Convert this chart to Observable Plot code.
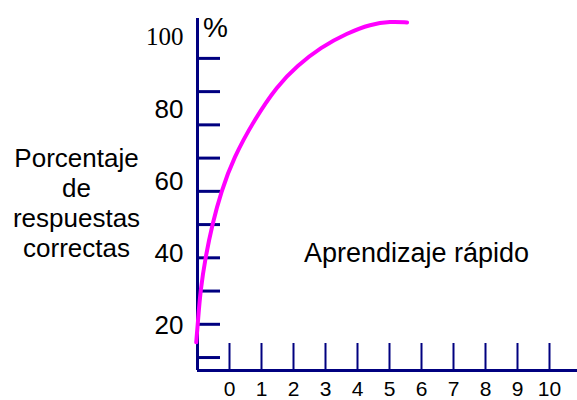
<!DOCTYPE html>
<html><head><meta charset="utf-8">
<script src="https://cdn.jsdelivr.net/npm/d3@7"></script>
<script src="https://cdn.jsdelivr.net/npm/@observablehq/plot@0.6"></script>
<style>body{margin:0;background:#fff}</style>
</head><body><div id="chart"></div>
<script>
// Curve (learning curve)
const curveX = [-1.04, -0.99, -0.91, -0.75, -0.54, -0.26, 0.13, 0.76, 1.49, 2.12, 2.84, 3.68, 4.41, 5.03, 5.55];
const curveY = [14.6, 20.3, 30.2, 40.2, 50.0, 60.0, 70.1, 81.3, 91.8, 97.8, 103.3, 107.6, 110.3, 111.1, 110.8];
// Axis ticks and labels
const xTicks = [0, 1, 2, 3, 4, 5, 6, 7, 8, 9, 10];
const yTicks = [10, 20, 30, 40, 50, 60, 70, 80, 90, 100];
const yLabels = [20, 40, 60, 80, 100];
const yTitle = "Porcentaje\nde\nrespuestas\ncorrectas";
const unitLabel = "%";
const note = "Aprendizaje rápido";

const navy = "#000080";
const yMin = 6.1, yMax = 112;
const curve = curveX.map((x, i) => ({x, y: curveY[i]}));
// the printed labels are spread slightly wider than the ticks in the original
const labelY = d => 19.5 + (d - 20) * 1.086;

const chart = Plot.plot({
  width: 577, height: 400,
  marginLeft: 197, marginRight: 0, marginTop: 18, marginBottom: 30,
  x: {domain: [-1, 10.875]},
  y: {domain: [yMin, yMax]},
  style: {fontFamily: "'Liberation Sans', Arial, sans-serif", color: "black", background: "white", overflow: "visible"},
  marks: [
    Plot.axisX({ticks: xTicks, tickSize: -27, fill: "none", stroke: navy, strokeWidth: 2, label: null}),
    Plot.axisX({ticks: xTicks, tickSize: 0, tickPadding: 11, fontSize: 21, label: null, fill: "black"}),
    Plot.axisY({ticks: yTicks, tickSize: -23, fill: "none", stroke: navy, strokeWidth: 3, label: null}),
    Plot.ruleX([-1], {stroke: navy, strokeWidth: 3}),
    Plot.ruleY([yMin], {stroke: navy, strokeWidth: 3}),
    Plot.line(curve, {x: "x", y: "y", stroke: "#ff00ff", strokeWidth: 4, curve: "basis"}),
    Plot.text(yLabels, {filter: d => d !== 100, y: labelY, text: d => String(d), frameAnchor: "left", dx: -14, textAnchor: "end", fontSize: 26}),
    Plot.text(yLabels, {filter: d => d === 100, y: labelY, text: d => String(d), frameAnchor: "left", dx: -14, textAnchor: "end", fontSize: 25, fontFamily: "'Liberation Serif', 'Times New Roman', serif"}),
    Plot.text([unitLabel], {text: d => d, frameAnchor: "top-left", lineAnchor: "top", dx: 18, dy: -1, textAnchor: "middle", fontSize: 28}),
    Plot.text([yTitle], {text: d => d, frameAnchor: "top-left", lineAnchor: "top", dx: -121, dy: 127, textAnchor: "middle", fontSize: 26, lineHeight: 1.16}),
    Plot.text([note], {text: d => d, frameAnchor: "top-left", lineAnchor: "top", dx: 219, dy: 224, textAnchor: "middle", fontSize: 27})
  ]
});
document.getElementById("chart").appendChild(chart);
</script>
</body></html>
